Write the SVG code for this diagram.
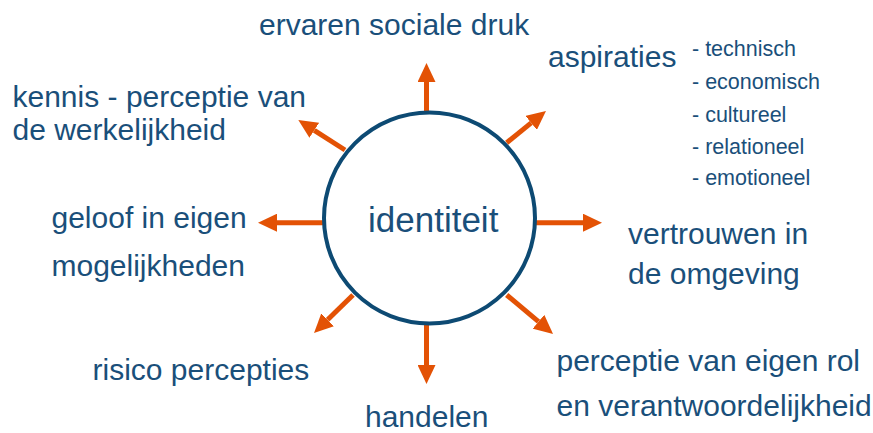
<svg xmlns="http://www.w3.org/2000/svg" width="873" height="433" viewBox="0 0 873 433">
<style>
  .lbl { font-family: "Liberation Sans", Arial, sans-serif; font-size: 30px; fill: #1A4F7A; }
  .sub { font-family: "Liberation Sans", Arial, sans-serif; font-size: 21.5px; fill: #1A4F7A; }
  .ctr { font-family: "Liberation Sans", Arial, sans-serif; font-size: 35px; fill: #1A4F7A; }
  .arr { stroke: #E35205; stroke-width: 5; fill: none; marker-end: url(#head); }
</style>
<defs>
  <marker id="head" viewBox="0 0 19 18" refX="0" refY="9" markerWidth="19" markerHeight="18" markerUnits="userSpaceOnUse" orient="auto">
    <path d="M0,0 L19,9 L0,18 Z" fill="#E35205"/>
  </marker>
</defs>
<rect width="873" height="433" fill="#FFFFFF"/>
<g id="connectors">
  <line class="arr" x1="426.5" y1="112" x2="426.5" y2="82"/>
  <line class="arr" x1="506.7" y1="142.7" x2="531.2" y2="122.9"/>
  <line class="arr" x1="536" y1="222.7" x2="583" y2="222.7"/>
  <line class="arr" x1="506.7" y1="295" x2="538.5" y2="321.7"/>
  <line class="arr" x1="426.5" y1="325" x2="426.5" y2="365"/>
  <line class="arr" x1="353" y1="295" x2="327.6" y2="319.8"/>
  <line class="arr" x1="323" y1="222.7" x2="277" y2="222.7"/>
  <line class="arr" x1="345" y1="150" x2="314.3" y2="130.3"/>
</g>
<g id="node-identiteit">
  <circle cx="429.5" cy="218" r="105.5" fill="none" stroke="#0D4A73" stroke-width="4"/>
  <text class="ctr" x="368" y="232">identiteit</text>
</g>
<g id="node-sociale-druk">
  <text class="lbl" x="259" y="35">ervaren sociale druk</text>
</g>
<g id="node-aspiraties">
  <text class="lbl" x="548" y="67">aspiraties</text>
  <text class="sub" x="692" y="56">- technisch</text>
  <text class="sub" x="692" y="89">- economisch</text>
  <text class="sub" x="692" y="121.5">- cultureel</text>
  <text class="sub" x="692" y="153.5">- relationeel</text>
  <text class="sub" x="692" y="185">- emotioneel</text>
</g>
<g id="node-kennis">
  <text class="lbl" x="12.5" y="107">kennis - perceptie van</text>
  <text class="lbl" x="12.5" y="140">de werkelijkheid</text>
</g>
<g id="node-geloof">
  <text class="lbl" x="51.5" y="228">geloof in eigen</text>
  <text class="lbl" x="51.5" y="276">mogelijkheden</text>
</g>
<g id="node-vertrouwen">
  <text class="lbl" x="628" y="244">vertrouwen in</text>
  <text class="lbl" x="628" y="284">de omgeving</text>
</g>
<g id="node-risico">
  <text class="lbl" x="92.5" y="380">risico percepties</text>
</g>
<g id="node-handelen">
  <text class="lbl" x="365" y="427">handelen</text>
</g>
<g id="node-rol">
  <text class="lbl" x="556.5" y="371">perceptie van eigen rol</text>
  <text class="lbl" x="556.5" y="416">en verantwoordelijkheid</text>
</g>
</svg>
